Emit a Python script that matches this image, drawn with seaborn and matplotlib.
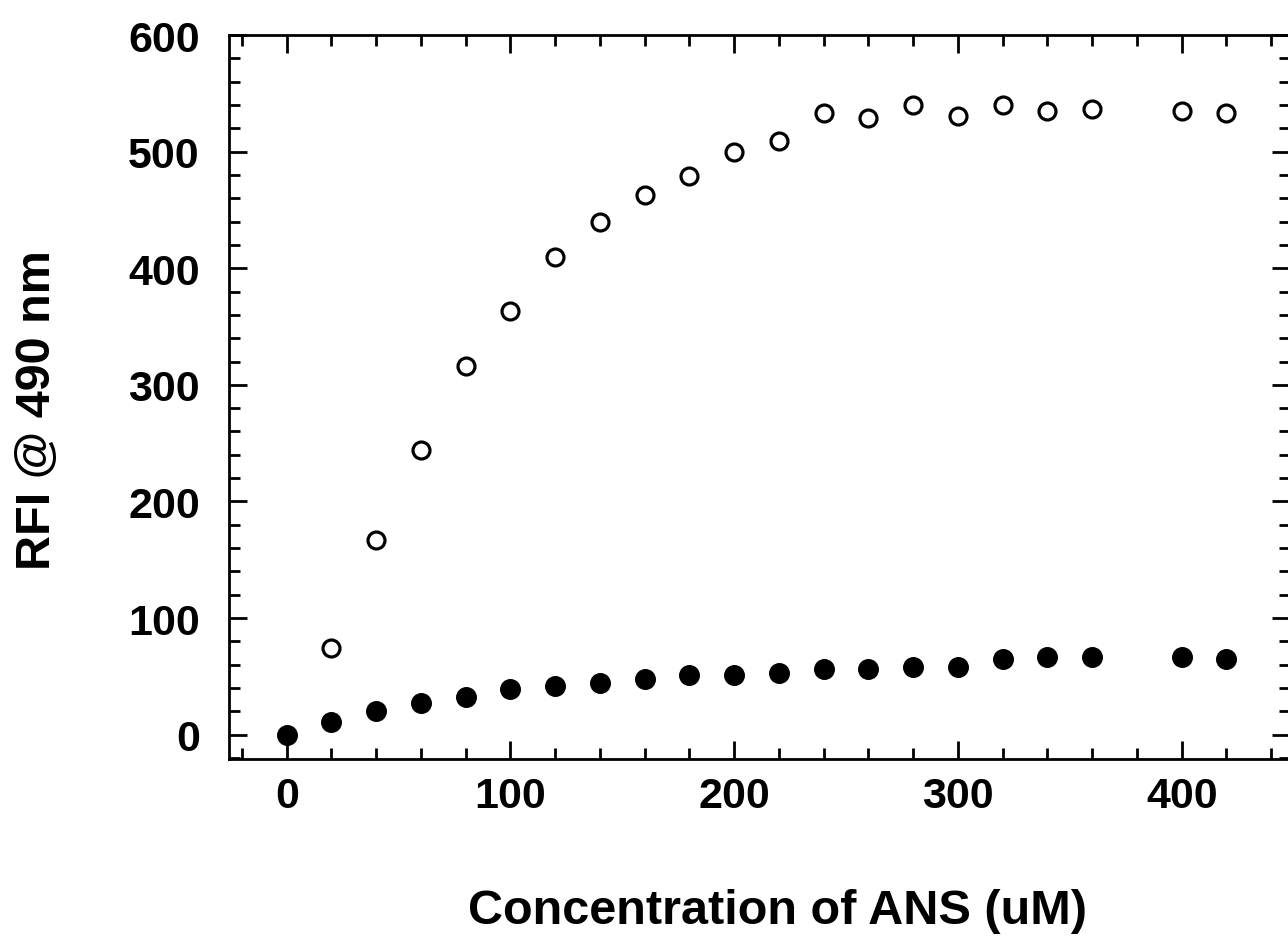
import matplotlib
matplotlib.use("Agg")
import matplotlib.pyplot as plt
from matplotlib.ticker import MultipleLocator
import seaborn as sns
import pandas as pd

# ---- data ----
conc_open = [20, 40, 60, 80, 100, 120, 140, 160, 180, 200, 220, 240, 260, 280,
             300, 320, 340, 360, 400, 420]
rfi_open = [74, 167, 244, 316, 363, 410, 440, 463, 479, 500, 509, 533, 529, 540,
            531, 540, 535, 537, 535, 533]

conc_filled = [0, 20, 40, 60, 80, 100, 120, 140, 160, 180, 200, 220, 240, 260,
               280, 300, 320, 340, 360, 400, 420]
rfi_filled = [0, 11, 20, 27, 32, 39, 42, 44, 48, 51, 51, 53, 56, 56,
              58, 58, 65, 67, 67, 67, 65]

xlabel = "Concentration of ANS (uM)"
ylabel = "RFI @ 490 nm"

sns.set_style("ticks")
plt.rcParams["font.family"] = ["Liberation Sans", "DejaVu Sans"]
plt.rcParams["font.weight"] = "bold"
plt.rcParams["text.color"] = "black"
plt.rcParams["axes.labelcolor"] = "black"
plt.rcParams["xtick.color"] = "black"
plt.rcParams["ytick.color"] = "black"
plt.rcParams["axes.edgecolor"] = "black"

df_open = pd.DataFrame({"x": conc_open, "y": rfi_open})
df_filled = pd.DataFrame({"x": conc_filled, "y": rfi_filled})

fig = plt.figure(figsize=(12.88, 9.37), dpi=100)
ax = fig.add_axes([229 / 1288, 177 / 937, (1290 - 229) / 1288, (901.3 - 177) / 937])

sns.scatterplot(data=df_open, x="x", y="y", ax=ax, s=12.2 ** 2,
                facecolors="white", edgecolor="black", linewidth=2.3, zorder=3)
sns.scatterplot(data=df_filled, x="x", y="y", ax=ax, s=13.6 ** 2,
                color="black", edgecolor="black", linewidth=1.5, zorder=4)

ax.set_xlim(-25.8, 448.4)
ax.set_ylim(-20.9, 600.3)

ax.xaxis.set_major_locator(MultipleLocator(100))
ax.xaxis.set_minor_locator(MultipleLocator(20))
ax.yaxis.set_major_locator(MultipleLocator(100))
ax.yaxis.set_minor_locator(MultipleLocator(20))

for sp in ax.spines.values():
    sp.set_visible(True)
    sp.set_linewidth(2.0)
    sp.set_color("black")

ax.tick_params(which="both", direction="in", top=True, right=True,
               width=2.0, color="black", labelcolor="black")
ax.tick_params(which="major", length=13)
ax.tick_params(which="minor", length=8)
ax.tick_params(axis="x", which="major", pad=12, labelsize=31)
ax.tick_params(axis="y", which="major", pad=21, labelsize=31)
for lab in ax.get_xticklabels() + ax.get_yticklabels():
    lab.set_fontweight("bold")

ax.set_xlabel(xlabel, fontsize=35, fontweight="bold", color="black")
ax.set_ylabel(ylabel, fontsize=35, fontweight="bold", color="black")
ax.xaxis.set_label_coords(0.5165, -0.2085)
ax.xaxis.label.set_va("center")
ax.yaxis.set_label_coords(-0.1804, 0.4832)
ax.yaxis.label.set_va("center")

fig.savefig("out.png", dpi=100, facecolor="white")
